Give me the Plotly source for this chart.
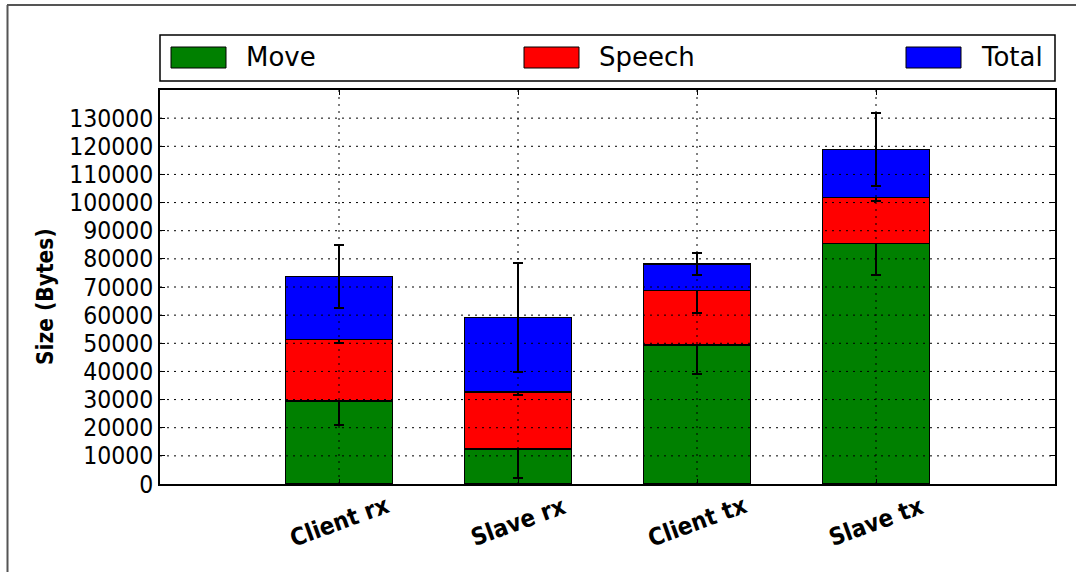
import plotly.graph_objects as go

# Message sizes per direction, stacked by component
categories = ["Client rx", "Slave rx", "Client tx", "Slave tx"]
move = [29500, 12400, 49400, 85500]
speech = [21800, 20300, 19400, 16300]
total = [22400, 26500, 9400, 17000]
move_err = [8700, 10400, 10200, 11100]
speech_err = [1300, 900, 8000, 1200]
total_err = [11200, 19300, 3800, 12900]
y_ticks = list(range(0, 130001, 10000))

series_names = ["Move", "Speech", "Total"]
colors = ["#008000", "#ff0000", "#0000ff"]

COND = "DejaVu Sans Condensed, DejaVu Sans, sans-serif"
REG = "DejaVu Sans, sans-serif"
x_pos = [i + 1 for i in range(len(categories))]

fig = go.Figure()
for name, vals, errs, col in zip(series_names, [move, speech, total],
                                 [move_err, speech_err, total_err], colors):
    fig.add_trace(go.Bar(
        x=x_pos, y=vals, name=name, width=0.6,
        marker=dict(color=col, line=dict(color="black", width=1.5)),
        error_y=dict(type="data", array=errs, color="black",
                     thickness=2, width=5),
        showlegend=False,
    ))

# dotted grid drawn over the bars
grid = []
for v in y_ticks[1:]:
    grid.append(dict(type="line", xref="paper", x0=0, x1=1, yref="y", y0=v, y1=v,
                     line=dict(color="black", width=1, dash="2px,5px"), layer="above"))
for xv in x_pos:
    grid.append(dict(type="line", xref="x", x0=xv, x1=xv, yref="paper", y0=0, y1=1,
                     line=dict(color="black", width=1, dash="2px,5px"), layer="above"))

# legend box spanning the full axis width
L, R, T, B = 160, 1055, 90, 484
W, H = R - L, B - T
px = lambda x: (x - L) / W
py = lambda y: (B - y) / H

shapes = grid + [
    dict(type="rect", xref="paper", yref="paper", x0=0, x1=1, y0=py(81), y1=py(35),
         line=dict(color="black", width=1.5), fillcolor="white"),
    # outer figure frame
    dict(type="line", xref="paper", yref="paper", x0=px(7), x1=px(1076), y0=py(5), y1=py(5),
         line=dict(color="#555555", width=2)),
    dict(type="line", xref="paper", yref="paper", x0=px(7.5), x1=px(7.5), y0=py(5), y1=py(572),
         line=dict(color="#555555", width=2)),
]
annotations = []
legend_x = [171, 524, 906]
for name, col, lx in zip(series_names, colors, legend_x):
    shapes.append(dict(type="rect", xref="paper", yref="paper",
                       x0=px(lx), x1=px(lx + 55), y0=py(68), y1=py(47),
                       fillcolor=col, line=dict(color="black", width=1)))
    annotations.append(dict(xref="paper", yref="paper", x=px(lx + 73), y=py(57.5),
                            text=name, showarrow=False, xanchor="left", yanchor="middle",
                            font=dict(family=REG, size=26, color="black")))

# rotated category labels centred under each bar
for xv, cat in zip(x_pos, categories):
    annotations.append(dict(xref="x", yref="paper", x=xv, y=py(522), text="<b>%s</b>" % cat,
                            showarrow=False, textangle=-20, xanchor="center", yanchor="middle",
                            font=dict(family=COND, size=24, color="black")))

annotations.append(dict(xref="paper", yref="paper", x=px(45), y=py(297),
                        text="<b>Size (Bytes)</b>", showarrow=False, textangle=-90,
                        xanchor="center", yanchor="middle",
                        font=dict(family=COND, size=22.5, color="black")))

fig.update_layout(
    barmode="stack",
    width=1076, height=572,
    margin=dict(l=L, r=1076 - R, t=T, b=572 - B, pad=0),
    paper_bgcolor="white", plot_bgcolor="white",
    shapes=shapes, annotations=annotations,
    font=dict(family=COND, size=24, color="black"),
)
fig.update_xaxes(range=[0, 5], tickvals=x_pos, showticklabels=False,
                 showgrid=False, zeroline=False, showline=True, linecolor="black",
                 linewidth=1.5, mirror="allticks", ticks="inside", ticklen=5,
                 tickcolor="black")
fig.update_yaxes(range=[0, 140000], tickvals=y_ticks, ticktext=[str(v) for v in y_ticks],
                 showgrid=False, zeroline=False, showline=True, linecolor="black",
                 linewidth=1.5, mirror="allticks", ticks="inside", ticklen=5,
                 tickcolor="black", tickfont=dict(family=COND, size=24.5))

fig.write_html("out.html")
